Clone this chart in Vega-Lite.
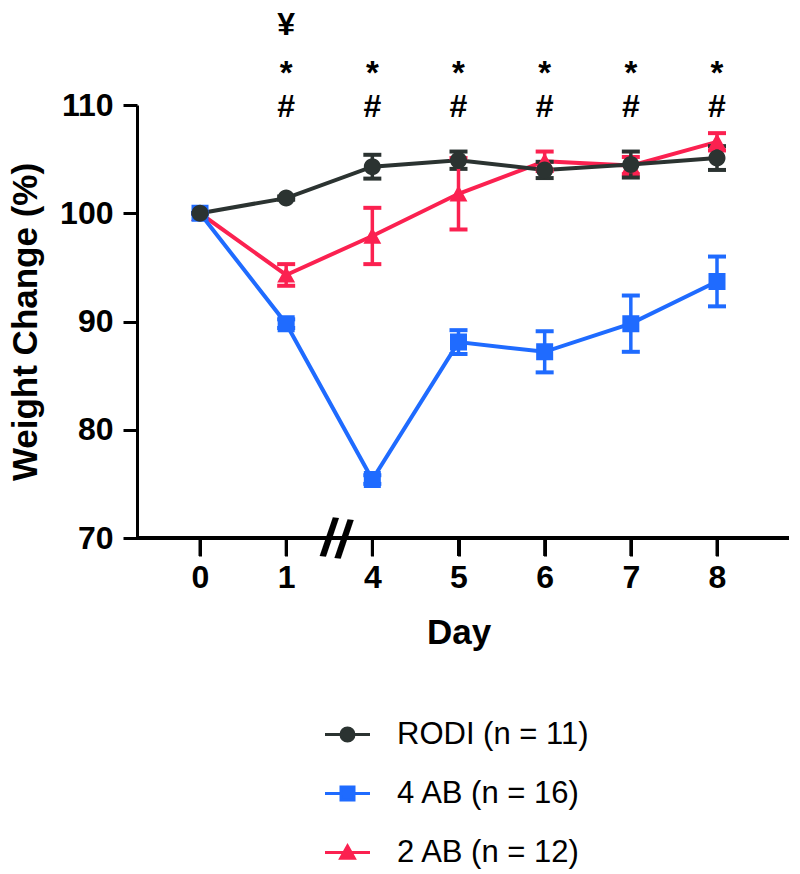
{
  "$schema": "https://vega.github.io/schema/vega-lite/v6.json",
  "autosize": "none",
  "width": 652,
  "height": 433,
  "padding": {"left": 137, "top": 105, "right": 11, "bottom": 336},
  "config": {
    "view": {"stroke": null},
    "font": "Liberation Sans",
    "axis": {
      "domainColor": "#000000",
      "domainWidth": 3,
      "tickColor": "#000000",
      "tickWidth": 3,
      "labelFont": "Liberation Sans",
      "labelFontWeight": "bold",
      "labelFontSize": 32,
      "labelColor": "#000000",
      "titleFont": "Liberation Sans",
      "titleFontWeight": "bold",
      "titleFontSize": 35,
      "titleColor": "#000000",
      "grid": false
    }
  },
  "data": {
    "values": [
      {"Group": "2 AB (n = 12)", "Day": "0", "mean": 100.0, "sem": 0.0},
      {"Group": "2 AB (n = 12)", "Day": "1", "mean": 94.3, "sem": 1.0},
      {"Group": "2 AB (n = 12)", "Day": "4", "mean": 97.9, "sem": 2.6},
      {"Group": "2 AB (n = 12)", "Day": "5", "mean": 101.8, "sem": 3.3},
      {"Group": "2 AB (n = 12)", "Day": "6", "mean": 104.8, "sem": 0.9},
      {"Group": "2 AB (n = 12)", "Day": "7", "mean": 104.4, "sem": 0.8},
      {"Group": "2 AB (n = 12)", "Day": "8", "mean": 106.6, "sem": 0.8},
      {"Group": "4 AB (n = 16)", "Day": "0", "mean": 100.0, "sem": 0.0},
      {"Group": "4 AB (n = 16)", "Day": "1", "mean": 89.8, "sem": 0.4},
      {"Group": "4 AB (n = 16)", "Day": "4", "mean": 75.4, "sem": 0.4},
      {"Group": "4 AB (n = 16)", "Day": "5", "mean": 88.1, "sem": 1.1},
      {"Group": "4 AB (n = 16)", "Day": "6", "mean": 87.2, "sem": 1.9},
      {"Group": "4 AB (n = 16)", "Day": "7", "mean": 89.8, "sem": 2.6},
      {"Group": "4 AB (n = 16)", "Day": "8", "mean": 93.7, "sem": 2.3},
      {"Group": "RODI (n = 11)", "Day": "0", "mean": 100.0, "sem": 0.0},
      {"Group": "RODI (n = 11)", "Day": "1", "mean": 101.4, "sem": 0.15},
      {"Group": "RODI (n = 11)", "Day": "4", "mean": 104.3, "sem": 1.1},
      {"Group": "RODI (n = 11)", "Day": "5", "mean": 104.9, "sem": 0.8},
      {"Group": "RODI (n = 11)", "Day": "6", "mean": 104.0, "sem": 0.75},
      {"Group": "RODI (n = 11)", "Day": "7", "mean": 104.5, "sem": 1.2},
      {"Group": "RODI (n = 11)", "Day": "8", "mean": 105.1, "sem": 1.1}
    ]
  },
  "encoding": {
    "x": {
      "field": "Day",
      "type": "ordinal",
      "sort": ["0", "1", "4", "5", "6", "7", "8"],
      "scale": {"type": "point", "range": [63, 580], "padding": 0},
      "axis": {"title": "Day", "domain": true, "ticks": true, "tickColor": "#000000", "tickWidth": 3, "labelAngle": 0, "tickSize": 18, "labelPadding": 6, "titlePadding": 22}
    }
  },
  "layer": [
    {
      "mark": {"type": "line", "strokeWidth": 4},
      "encoding": {
        "y": {
          "field": "mean",
          "type": "quantitative",
          "scale": {"domain": [70, 110], "nice": false, "zero": false},
          "axis": {"title": "Weight Change (%)", "values": [70, 80, 90, 100, 110], "tickSize": 14, "labelPadding": 10, "titlePadding": 16}
        },
        "color": {
          "field": "Group",
          "type": "nominal",
          "scale": {"domain": ["RODI (n = 11)", "4 AB (n = 16)", "2 AB (n = 12)"], "range": ["#2b3331", "#1f6bff", "#fb2150"]},
          "legend": {
            "title": null,
            "orient": "none",
            "legendX": 195,
            "legendY": 614,
            "direction": "vertical",
            "padding": 0,
            "symbolSize": 169,
            "symbolOpacity": 1,
            "symbolStrokeWidth": 3,
            "labelOffset": 34,
            "labelFont": "Liberation Sans",
            "labelFontSize": 31,
            "labelColor": "#000000",
            "labelLimit": 500,
            "rowPadding": 27
          }
        },
        "detail": {"field": "Group"}
      }
    },
    {
      "mark": {"type": "errorbar", "opacity": 1, "ticks": {"size": 18, "thickness": 4, "opacity": 1}, "rule": {"strokeWidth": 3.5, "opacity": 1}},
      "encoding": {
        "y": {"field": "mean", "type": "quantitative", "title": "Weight Change (%)"},
        "yError": {"field": "sem"},
        "color": {"field": "Group", "type": "nominal"}
      }
    },
    {
      "mark": {"type": "point", "filled": true, "opacity": 1, "size": 289},
      "encoding": {
        "y": {"field": "mean", "type": "quantitative", "title": "Weight Change (%)"},
        "shape": {
          "field": "Group",
          "type": "nominal",
          "scale": {
            "domain": ["RODI (n = 11)", "4 AB (n = 16)", "2 AB (n = 12)"],
            "range": [
              "M-3.46,0H3.46M1,0A1,1,0,1,1,-1,0A1,1,0,1,1,1,0Z",
              "M-3.46,0H3.46M-1,-1H1V1H-1Z",
              "M-3.46,0H3.46M0,-1L1.05,0.9H-1.05Z"
            ]
          },
          "legend": {
            "title": null,
            "orient": "none",
            "legendX": 195,
            "legendY": 614,
            "direction": "vertical",
            "padding": 0,
            "symbolSize": 169,
            "symbolOpacity": 1,
            "symbolStrokeWidth": 3,
            "labelOffset": 34,
            "labelFont": "Liberation Sans",
            "labelFontSize": 31,
            "labelColor": "#000000",
            "labelLimit": 500,
            "rowPadding": 27
          }
        },
        "color": {"field": "Group", "type": "nominal"}
      }
    },
    {
      "data": {"values": [{"Day": "1"}, {"Day": "4"}, {"Day": "5"}, {"Day": "6"}, {"Day": "7"}, {"Day": "8"}]},
      "mark": {"type": "text", "fontSize": 32, "fontWeight": "bold", "baseline": "alphabetic", "color": "#000000", "text": "#"},
      "encoding": {"y": {"datum": 108.87}}
    },
    {
      "data": {"values": [{"Day": "1"}, {"Day": "4"}, {"Day": "5"}, {"Day": "6"}, {"Day": "7"}, {"Day": "8"}]},
      "mark": {"type": "text", "fontSize": 33, "fontWeight": "bold", "baseline": "alphabetic", "color": "#000000", "text": "*"},
      "encoding": {"y": {"datum": 111.9}}
    },
    {
      "data": {"values": [{"Day": "1"}]},
      "mark": {"type": "text", "fontSize": 32, "fontWeight": "bold", "baseline": "alphabetic", "color": "#000000", "text": "¥"},
      "encoding": {"y": {"datum": 116.45}}
    },
    {
      "data": {"values": [{"Day": "1"}]},
      "mark": {"type": "text", "fontSize": 54, "fontWeight": "bold", "baseline": "middle", "color": "#000000", "text": "//", "dx": 50, "dy": -4, "angle": 8},
      "encoding": {"y": {"datum": 70}}
    },
    {
      "data": {"values": [{"Day": "0"}, {"Day": "1"}, {"Day": "4"}, {"Day": "5"}, {"Day": "6"}, {"Day": "7"}, {"Day": "8"}]},
      "mark": {"type": "rule", "strokeWidth": 3, "color": "#000000"},
      "encoding": {
        "y": {"datum": 70},
        "y2": {"datum": 68.34}
      }
    },
    {
      "mark": {"type": "rule", "strokeWidth": 3, "color": "#000000"},
      "encoding": {
        "x": {"value": 0},
        "x2": {"value": {"expr": "width"}},
        "y": {"datum": 70}
      }
    }
  ]
}
